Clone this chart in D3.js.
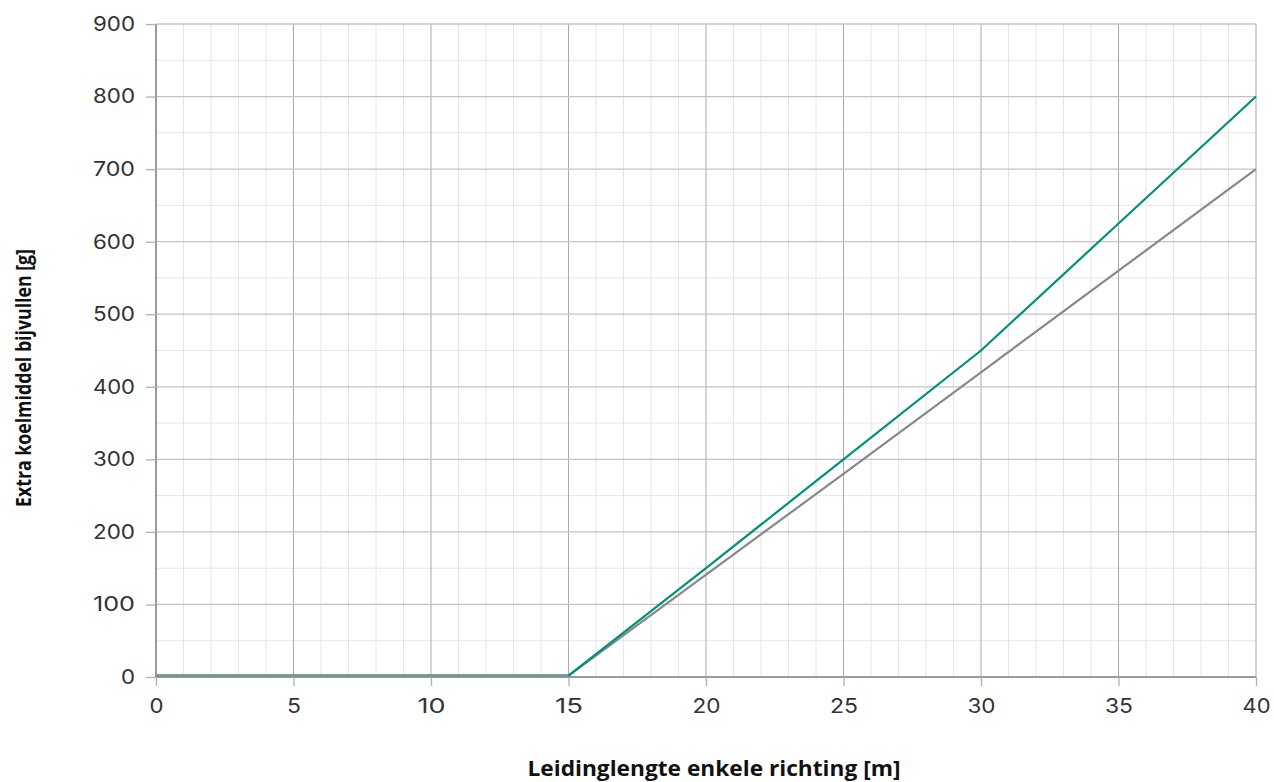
<!DOCTYPE html>
<html><head><meta charset="utf-8">
<script src="https://d3js.org/d3.v7.min.js"></script>
<style>body{margin:0;background:#fff}svg{display:block}</style>
</head><body><svg id="c" width="1274" height="782"></svg>
<script>
const xTicks = [0,5,10,15,20,25,30,35,40];
const yTicks = [0,100,200,300,400,500,600,700,800,900];
const lengthsGreen = [0,15,20,25,30,35,40];
const valuesGreen = [2,2,150,300,450,625,800];
const lengthsGray = [0,15,25,30,40];
const valuesGray = [2,2,280,420,700];

const svg = d3.select("#c");
const m = {l:156,r:1256,t:24,b:677};
const x = d3.scaleLinear().domain([0,40]).range([m.l,m.r]);
const y = d3.scaleLinear().domain([0,900]).range([m.b,m.t]);
const font = "Inter, 'Open Sans', sans-serif";
const tfont = "'Open Sans', sans-serif";

const g = svg.append("g");
g.selectAll(".mx").data(d3.range(0,41,1).filter(d=>d%5)).join("line")
 .attr("x1",d=>x(d)).attr("x2",d=>x(d)).attr("y1",m.t).attr("y2",m.b)
 .attr("stroke","#e6e6e6").attr("stroke-width",1);
g.selectAll(".my").data(d3.range(50,900,100)).join("line")
 .attr("x1",m.l).attr("x2",m.r).attr("y1",d=>y(d)).attr("y2",d=>y(d))
 .attr("stroke","#e6e6e6").attr("stroke-width",1);
g.selectAll(".Mx").data(xTicks.filter(d=>d>0)).join("line")
 .attr("x1",d=>x(d)).attr("x2",d=>x(d)).attr("y1",m.t).attr("y2",m.b)
 .attr("stroke","#a9a9a9").attr("stroke-width",1);
g.selectAll(".My").data(yTicks.filter(d=>d>0)).join("line")
 .attr("x1",m.l).attr("x2",m.r).attr("y1",d=>y(d)).attr("y2",d=>y(d))
 .attr("stroke","#c4c4c4").attr("stroke-width",1.3);

const yAxis = svg.append("g").attr("transform",`translate(${m.l},0)`)
 .call(d3.axisLeft(y).tickValues(yTicks).tickSize(10).tickPadding(11));
const xAxis = svg.append("g").attr("transform",`translate(0,${m.b})`)
 .call(d3.axisBottom(x).tickValues(xTicks).tickSize(9).tickPadding(8));
[yAxis,xAxis].forEach(a=>{
  a.select(".domain").attr("stroke","#9a9a9a").attr("stroke-width",2);
  a.selectAll(".tick line").attr("stroke","#b0b0b0").attr("stroke-width",1.3);
  a.selectAll("text").attr("font-family",font).attr("font-size",20).attr("fill","#333")
   .attr("textLength",function(){return 14*this.textContent.length;})
   .attr("lengthAdjust","spacingAndGlyphs");
});
xAxis.selectAll("text").attr("y",36).attr("dy",0);
yAxis.select(".domain").attr("d",`M0,${m.b}V${m.t}`);
xAxis.select(".domain").attr("d",`M${m.l},0H${m.r}`);

const line = d3.line().x(d=>x(d[0])).y(d=>y(d[1]));
svg.append("path").datum(d3.zip(lengthsGray,valuesGray)).attr("d",line)
 .attr("fill","none").attr("stroke","#888888").attr("stroke-width",2.2);
svg.append("path").datum(d3.zip(lengthsGreen,valuesGreen)).attr("d",line)
 .attr("fill","none").attr("stroke","#00917c").attr("stroke-width",2.2);
svg.append("path").datum(d3.zip(lengthsGray,valuesGray).slice(0,2)).attr("d",line)
 .attr("fill","none").attr("stroke","#7f9a94").attr("stroke-width",2.4);

svg.append("text").attr("x",714).attr("y",776).attr("text-anchor","middle")
 .attr("font-family",tfont).attr("font-weight","bold").attr("font-size",21).attr("fill","#111")
 .attr("textLength",373).attr("lengthAdjust","spacingAndGlyphs")
 .text("Leidinglengte enkele richting [m]");
svg.append("text").attr("transform",`translate(31,378) rotate(-90)`).attr("text-anchor","middle")
 .attr("font-family",tfont).attr("font-weight","bold").attr("font-size",22).attr("fill","#111")
 .attr("textLength",258).attr("lengthAdjust","spacingAndGlyphs")
 .text("Extra koelmiddel bijvullen [g]");
</script></body></html>
